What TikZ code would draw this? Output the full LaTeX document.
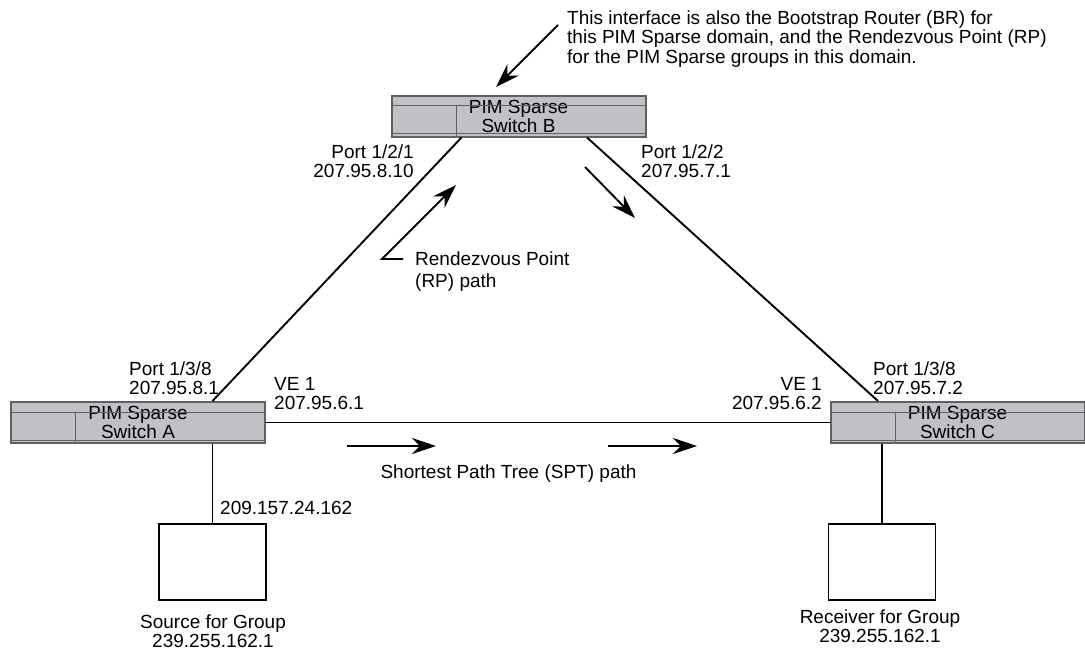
\documentclass[tikz,border=0pt]{standalone}
\usepackage{fontspec}
\setmainfont{Liberation Sans}
\usetikzlibrary{arrows.meta}
\definecolor{swgray}{RGB}{192,192,197}
\definecolor{swedge}{RGB}{95,95,100}

\begin{document}
\begin{tikzpicture}[x=1pt,y=-1pt,
	font=\fontsize{19}{19}\selectfont,
	switch/.style={draw=swedge,line width=2pt,fill=swgray,minimum width=254pt,minimum height=41pt,inner sep=0pt,align=center},
	host/.style={draw,line width=1.9pt,minimum width=107pt,minimum height=76pt,inner sep=0pt},
	link/.style={line width=1.9pt},
	arr/.style={line width=1.9pt,-{Stealth[length=24pt,width=16pt,inset=8pt]}},
	txt/.style={inner sep=0pt,anchor=base west,align=left}]
	\useasboundingbox (0,0) rectangle (1085,656);

	% switches and hosts
	\node[switch] (swB) at (518.5,116) {PIM Sparse\\Switch B};
	\node[switch] (swA) at (138,422.5) {PIM Sparse\\Switch A};
	\node[switch] (swC) at (957.5,422.5) {PIM Sparse\\Switch C};
	\foreach \s in {swA,swB,swC}{
		\draw[swedge,line width=1pt] ([yshift=-11pt]\s.north west) -- ([yshift=-11pt]\s.north east);
		\draw[swedge,line width=1pt] ([yshift=4pt]\s.south west) -- ([yshift=4pt]\s.south east);
		\draw[swedge,line width=1pt] ([xshift=65.5pt,yshift=-11pt]\s.north west) -- ([xshift=65.5pt]\s.south west);
	}
	\node[host] (src) at (212.5,562) {};
	\node[host] (rcv) at (882,562) {};

	% links
	\draw[link] (src.north |- swA.north) -- ([xshift=-57pt]swB.south);
	\draw[link] ([xshift=68.5pt]swB.south) -- ([xshift=-79.5pt]swC.north);
	\draw[link] (swA.east) -- (swC.west);
	\draw[link] (src.north) -- (src.north |- swA.south);
	\draw[link] (rcv.north) -- (rcv.north |- swC.south);

	% arrows
	\coordinate (brS) at (558,25);
	\coordinate (brE) at (496,87);
	\draw[arr] (brS) -- (brE);
	\coordinate (rp0) at (403,259);
	\coordinate (rp1) at (382,259);
	\coordinate (rp2) at (456,185);
	\draw[arr] (rp0) -- (rp1) -- (rp2);
	\coordinate (bc0) at (585,167);
	\coordinate (bc1) at (635,218);
	\draw[arr] (bc0) -- (bc1);
	\coordinate (sp0) at (347,446);
	\coordinate (sp1) at (436,446);
	\coordinate (sp2) at (608,446);
	\coordinate (sp3) at (697,446);
	\draw[arr] (sp0) -- (sp1);
	\draw[arr] (sp2) -- (sp3);

	% labels
	\node[txt] (note) at (567,63) {This interface is also the Bootstrap Router (BR) for\\[0.5pt]this PIM Sparse domain, and the Rendezvous Point (RP)\\[0.5pt]for the PIM Sparse groups in this domain.};
	\node[txt,anchor=base east,align=right] (pB1) at (414,177) {Port 1/2/1\\207.95.8.10};
	\node[txt] (pB2) at (641,177) {Port 1/2/2\\207.95.7.1};
	\node[txt] (pA) at (129,394) {Port 1/3/8\\207.95.8.1};
	\node[txt] (veA) at (274,409) {VE 1\\207.95.6.1};
	\node[txt,anchor=base east,align=right] (veC) at (822,409) {VE 1\\207.95.6.2};
	\node[txt] (pC) at (873,394) {Port 1/3/8\\207.95.7.2};
	\node[txt] (rp) at (415,287) {Rendezvous Point\\[3pt](RP) path};
	\node[txt,anchor=base] (spt) at (508.5,478) {Shortest Path Tree (SPT) path};
	\node[txt] (ipA) at (220,514) {209.157.24.162};
	\node[txt,anchor=base,align=center] (srcl) at (213,647) {Source for Group\\239.255.162.1};
	\node[txt,anchor=base,align=center] (rcvl) at (880,642) {Receiver for Group\\239.255.162.1};
\end{tikzpicture}
\end{document}
